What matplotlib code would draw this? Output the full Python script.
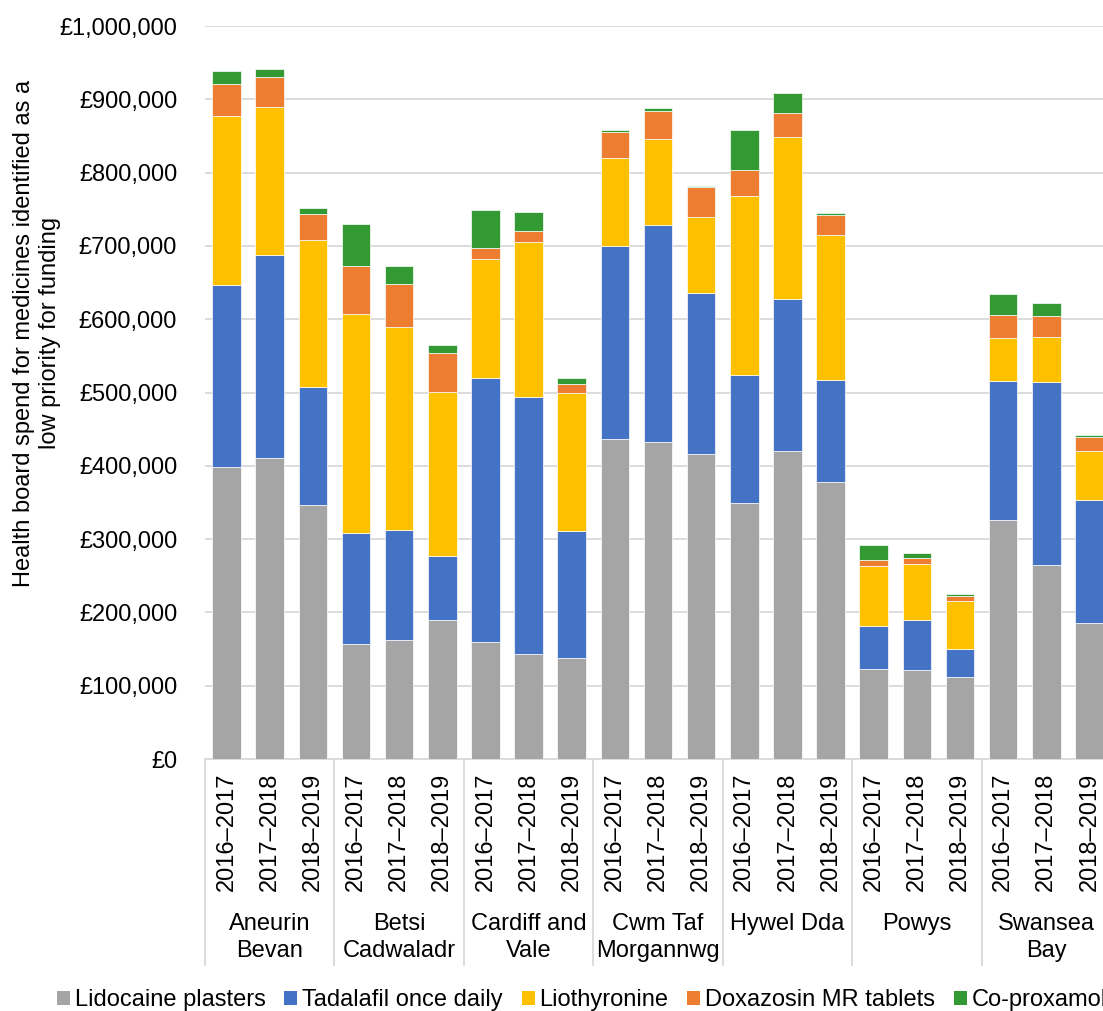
import matplotlib
matplotlib.use("Agg")
import matplotlib.pyplot as plt
from matplotlib.patches import Patch
from matplotlib.ticker import FuncFormatter, MultipleLocator
import matplotlib.transforms as mtransforms
import numpy as np

plt.rcParams['font.family'] = ['Liberation Sans', 'DejaVu Sans']

boards = ["Aneurin\nBevan", "Betsi\nCadwaladr", "Cardiff and\nVale", "Cwm Taf\nMorgannwg",
          "Hywel Dda", "Powys", "Swansea\nBay"]
years = ["2016\u20132017", "2017\u20132018", "2018\u20132019"]

series_names = ["Lidocaine plasters", "Tadalafil once daily", "Liothyronine",
                "Doxazosin MR tablets", "Co-proxamol"]
colors = ["#A5A5A5", "#4472C4", "#FFC000", "#ED7D31", "#339933"]

# values in £ thousands, ordered board by board, year by year
lidocaine = [398, 411, 347, 157, 162, 189, 160, 143, 138, 437, 432, 416,
             349, 420, 378, 123, 121, 112, 326, 265, 185]
tadalafil = [248, 277, 161, 151, 150, 88, 360, 351, 173, 263, 297, 220,
             175, 208, 139, 59, 69, 38, 190, 250, 169]
liothyronine = [231, 202, 200, 299, 277, 224, 162, 212, 188, 120, 117, 104,
                244, 221, 198, 81, 76, 66, 58, 61, 66]
doxazosin = [44, 41, 35, 65, 59, 53, 15, 15, 12, 35, 38, 40,
             35, 32, 27, 8, 8, 7, 32, 29, 19]
coproxamol = [18, 11, 9, 58, 25, 11, 52, 25, 9, 3, 4, 2,
              55, 27, 3, 21, 7, 2, 28, 17, 3]

series = [lidocaine, tadalafil, liothyronine, doxazosin, coproxamol]

W, H = 1103, 1011
fig = plt.figure(figsize=(W / 100, H / 100), dpi=100)
ax = fig.add_axes([205 / W, 252 / H, 906 / W, 733 / H])

n = len(lidocaine)
x = np.arange(n)
bottom = np.zeros(n)
for name, vals, c in zip(series_names, series, colors):
    v = np.array(vals, dtype=float) * 1000
    ax.bar(x, v, bottom=bottom, width=0.665, color=c, edgecolor="white",
           linewidth=0.5, zorder=3, label=name)
    bottom += v

ax.set_xlim(-0.5, n - 0.5)
ax.set_ylim(0, 1_000_000)
ax.yaxis.set_major_locator(MultipleLocator(100_000))
ax.yaxis.set_major_formatter(FuncFormatter(lambda v, p: "\u00a3{:,.0f}".format(v)))
ax.grid(axis="y", color="#D9D9D9", linewidth=1.3, zorder=0)
ax.set_axisbelow(True)
for s in ["top", "right", "left"]:
    ax.spines[s].set_visible(False)
ax.spines["bottom"].set_color("#D9D9D9")
ax.spines["bottom"].set_linewidth(1.3)
ax.tick_params(axis="y", length=0, pad=20, labelsize=17)
ax.tick_params(axis="x", length=0, pad=10, labelsize=17)
ax.set_xticks(x)
ax.set_xticklabels(years * len(boards), rotation=90)

trans = mtransforms.blended_transform_factory(ax.transData, ax.transAxes)
sep_bottom = (759 - 965) / 733
for k in range(len(boards) + 1):
    xs = 3 * k - 0.5
    ax.plot([xs, xs], [0, sep_bottom], transform=trans, color="#D9D9D9",
            linewidth=1.3, clip_on=False, zorder=1)

y1 = (759 - 924) / 733
y2 = (759 - 951) / 733
for k, b in enumerate(boards):
    lines = b.split("\n")
    cx = 3 * k + 1
    for j, ln in enumerate(lines):
        ax.text(cx, y1 if j == 0 else y2, ln, transform=trans, ha="center",
                va="center", fontsize=17, clip_on=False)

fig.text(37 / W, 1 - 333 / H,
         "Health board spend for medicines identified as a\nlow priority for funding",
         rotation=90, ha="center", va="center", multialignment="center",
         fontsize=17, linespacing=1.2)

handles = [Patch(facecolor=c, edgecolor="none") for c in colors]
fig.legend(handles, series_names, ncol=5, loc="center left",
           bbox_to_anchor=(57 / W, 1 - 1000 / H), bbox_transform=fig.transFigure,
           frameon=False, fontsize=17, handlelength=0.55, handleheight=0.55,
           handletextpad=0.2, columnspacing=0.8, borderaxespad=0, borderpad=0)

fig.savefig("out.png", dpi=100)
